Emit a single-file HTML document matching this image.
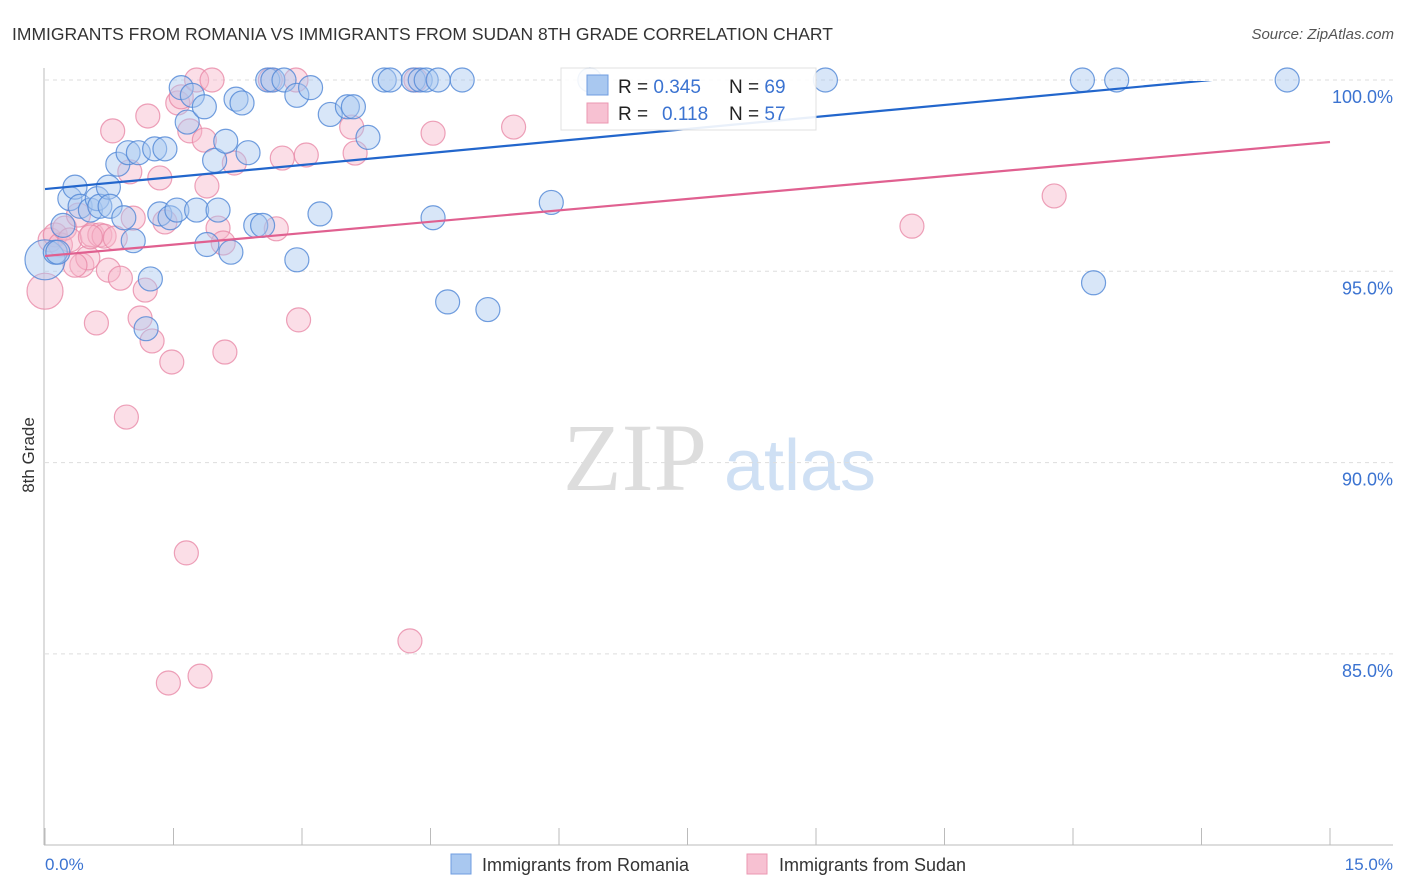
<!DOCTYPE html>
<html><head><meta charset="utf-8"><style>
body{margin:0;background:#fff;font-family:"Liberation Sans",sans-serif}
</style></head><body>
<svg id="chart" width="1406" height="892" xmlns="http://www.w3.org/2000/svg" style="display:block">
<text x="12" y="40" font-size="17.5" fill="#333">IMMIGRANTS FROM ROMANIA VS IMMIGRANTS FROM SUDAN 8TH GRADE CORRELATION CHART</text>
<text x="1394" y="39" font-size="15" fill="#555" font-style="italic" text-anchor="end">Source: ZipAtlas.com</text>
<g><text x="635" y="490" font-size="96" fill="#ddd" font-family="Liberation Serif,serif" text-anchor="middle">ZIP</text><text x="800" y="490" font-size="72" fill="#cfe0f4" text-anchor="middle">atlas</text></g>
<g id="grid"></g><g id="axes"></g><g id="marks"></g>
<text transform="translate(34,455) rotate(-90)" font-size="17" fill="#333" text-anchor="middle">8th Grade</text>
<text x="45" y="870" font-size="17" fill="#3b73d1">0.0%</text>
<text x="1393" y="870" font-size="17" fill="#3b73d1" text-anchor="end">15.0%</text>
<g>
<rect x="561" y="68" width="255" height="62" fill="#fff" stroke="#ddd" opacity="0.9"/>
<rect x="587" y="75" width="21" height="20" fill="#a9c8f0" stroke="#6f9de0"/>
<rect x="587" y="103" width="21" height="20" fill="#f7c1d2" stroke="#eb97b2"/>
<text x="618" y="93" font-size="19" fill="#222">R = <tspan fill="#3b73d1">0.345</tspan><tspan x="729">N = </tspan><tspan fill="#3b73d1">69</tspan></text>
<text x="618" y="120" font-size="19" fill="#222">R = <tspan x="662" fill="#3b73d1">0.118</tspan><tspan x="729">N = </tspan><tspan fill="#3b73d1">57</tspan></text>
</g>
<g>
<rect x="451" y="854" width="20" height="20" fill="#a9c8f0" stroke="#6f9de0"/>
<text x="482" y="871" font-size="18" fill="#333">Immigrants from Romania</text>
<rect x="747" y="854" width="20" height="20" fill="#f7c1d2" stroke="#eb97b2"/>
<text x="779" y="871" font-size="18" fill="#333">Immigrants from Sudan</text>
</g>
</svg>
<script>
const yTicks=[100,95,90,85];
const yTickLabels=["100.0%","95.0%","90.0%","85.0%"];
const xTicks=[0,1.5,3,4.5,6,7.5,9,10.5,12,13.5,15];
const romaniaX=[0,0.12,0.15,0.21,0.29,0.35,0.41,0.53,0.61,0.64,0.74,0.76,0.85,0.92,0.97,1.03,1.09,1.18,1.23,1.28,1.34,1.40,1.46,1.54,1.59,1.66,1.72,1.77,1.86,1.89,1.98,2.02,2.11,2.17,2.23,2.30,2.37,2.46,2.54,2.60,2.66,2.79,2.94,2.94,3.10,3.21,3.33,3.53,3.60,3.77,3.96,4.03,4.30,4.38,4.45,4.53,4.59,4.70,4.87,5.17,5.91,6.36,9.11,12.11,12.24,12.51,14.50];
const romaniaY=[95.3,95.5,95.5,96.2,96.9,97.2,96.7,96.6,96.9,96.7,97.2,96.7,97.8,96.4,98.1,95.8,98.1,93.5,94.8,98.2,96.5,98.2,96.4,96.6,99.8,98.9,99.6,96.6,99.3,95.7,97.9,96.6,98.4,95.5,99.5,99.4,98.1,96.2,96.2,100,100,100,99.6,95.3,99.8,96.5,99.1,99.3,99.3,98.5,100,100,100,100,100,96.4,100,94.2,100,94.0,96.8,100,100,100,94.7,100,100];
const sudanX=[0,0.06,0.12,0.18,0.23,0.29,0.39,0.43,0.50,0.55,0.60,0.64,0.69,0.74,0.82,0.88,0.95,0.99,1.03,1.11,1.17,1.20,1.25,1.34,1.40,1.48,1.55,1.59,1.65,1.69,1.77,1.81,1.86,1.89,1.95,2.02,2.08,2.10,2.21,2.63,2.70,2.77,2.93,2.96,3.05,3.58,3.62,4.26,4.33,4.53,5.47,10.12,11.78,1.44,0.53,0.35,0.79];
const sudanY=[94.48,95.82,95.95,95.69,96.13,95.82,96.47,95.16,95.35,95.95,93.65,95.95,95.92,95.03,95.87,94.82,91.19,97.60,96.39,93.78,94.51,99.06,93.18,97.44,96.29,92.63,99.40,99.56,87.64,98.67,100,84.42,98.43,97.23,100,96.13,95.74,92.89,97.83,100,96.11,97.96,100,93.73,98.04,98.77,98.09,85.34,100,98.61,98.77,96.18,96.97,84.24,95.9,95.16,98.67];
const romaniaTrend=[97.15,100.29];
const sudanTrend=[95.4,98.38];
const NS="http://www.w3.org/2000/svg";
const X=v=>45+v/15*1285, Y=v=>80+(100-v)*38.26;
function mk(t,a,p){const e=document.createElementNS(NS,t);for(const k in a)e.setAttribute(k,a[k]);p.appendChild(e);return e;}
const grid=document.getElementById('grid'),axes=document.getElementById('axes'),marks=document.getElementById('marks');
yTicks.forEach((v,i)=>{
 const l=mk('line',{x1:45,x2:1393,y1:Y(v),y2:Y(v),stroke:'#ddd','stroke-dasharray':'4,4'},grid);
 
 
 const t=mk('text',{x:1393,y:Y(v)+23,'font-size':18,fill:'#3b73d1','text-anchor':'end'},grid);
 t.textContent=yTickLabels[i];
 
 
});
const ya=mk('line',{x1:44,x2:44,y1:68,y2:845,stroke:'#bbb'},axes);


const xa=mk('line',{x1:44,x2:1393,y1:845,y2:845,stroke:'#bbb'},axes);


xTicks.forEach(v=>{
 const t=mk('line',{x1:X(v),x2:X(v),y1:828,y2:845,stroke:'#bbb'},axes);
 
 
});
function dots(xs,ys,fill,stroke,name){
 xs.forEach((x,i)=>{
  const r=i===0?(name==='romania'?20:18):12;
  const c=mk('circle',{cx:X(x),cy:Y(ys[i]),r:r,fill:fill,'fill-opacity':0.45,stroke:stroke,'stroke-opacity':0.8,'stroke-width':1.2},marks);
  
  
 });
}
dots(sudanX,sudanY,'#f7b6ca','#e88aa8','sudan');
dots(romaniaX,romaniaY,'#a9c8f0','#4f86d6','romania');
const cp=mk('clipPath',{id:'pc'},marks);mk('rect',{x:44,y:81,width:1350,height:770},cp);
function trend(tr,color,name){
 const l=mk('line',{x1:X(0),y1:Y(tr[0]),x2:X(15),y2:Y(tr[1]),stroke:color,'stroke-width':2.2,'clip-path':'url(#pc)'},marks);
 
 
}
trend(romaniaTrend,'#2266cc','romania-trend-line');
trend(sudanTrend,'#e06090','sudan-trend-line');
</script>
</body></html>
